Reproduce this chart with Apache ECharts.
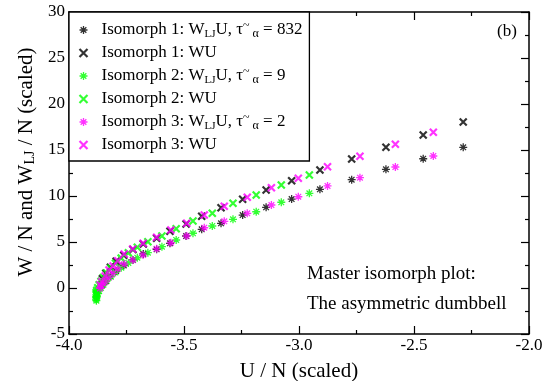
<!DOCTYPE html>
<html>
<head>
<meta charset="utf-8">
<script src="https://cdn.jsdelivr.net/npm/echarts@6/dist/echarts.min.js"></script>
<style>
  html, body { margin: 0; padding: 0; background: #fff; }
  #chart { width: 559px; height: 381px; }
</style>
</head>
<body>
<div id="chart"></div>
<script>
// Isomorph 1 state points: potential energy per particle and virials
var iso1U   = [-2.286, -2.460, -2.622, -2.771, -2.909, -3.032, -3.143, -3.245, -3.339, -3.423, -3.491, -3.561, -3.619, -3.677, -3.722, -3.762, -3.795, -3.820, -3.840, -3.855];
var iso1W   = [18.04, 16.63, 15.29, 14.02, 12.83, 11.66, 10.65, 9.64, 8.73, 7.79, 6.96, 6.16, 5.40, 4.78, 4.18, 3.55, 2.90, 2.25, 1.60, 1.00];
var iso1WLJ = [15.29, 14.05, 12.90, 11.77, 10.73, 9.67, 8.77, 7.93, 7.03, 6.38, 5.65, 4.86, 4.21, 3.70, 3.05, 2.45, 1.85, 1.30, 0.75, 0.30];

// Isomorph 2
var iso2U   = [-2.955, -3.077, -3.186, -3.287, -3.377, -3.461, -3.534, -3.596, -3.657, -3.703, -3.742, -3.773, -3.798, -3.818, -3.836, -3.850, -3.861, -3.869, -3.875, -3.879, -3.881, -3.882, -3.881];
var iso2W   = [12.28, 11.20, 10.11, 9.21, 8.12, 7.28, 6.45, 5.65, 5.03, 4.42, 3.82, 3.25, 2.70, 2.15, 1.62, 1.15, 0.72, 0.35, 0.02, -0.25, -0.45, -0.62, -0.75];
var iso2WLJ = [10.29, 9.32, 8.29, 7.47, 6.74, 5.95, 5.22, 4.49, 3.84, 3.29, 2.72, 2.20, 1.70, 1.22, 0.78, 0.38, 0.02, -0.32, -0.62, -0.88, -1.08, -1.25, -1.38];

// Isomorph 3
var iso3U   = [-2.416, -2.581, -2.735, -2.876, -3.003, -3.120, -3.225, -3.325, -3.412, -3.488, -3.557, -3.619, -3.678, -3.723, -3.760, -3.788, -3.808, -3.826, -3.843, -3.858, -3.865];
var iso3W   = [16.92, 15.62, 14.32, 13.18, 11.92, 10.90, 9.86, 8.88, 7.93, 7.03, 6.30, 5.51, 4.86, 4.24, 3.70, 2.97, 2.39, 1.96, 1.30, 0.68, 0.33];
var iso3WLJ = [14.35, 13.15, 11.99, 11.09, 9.92, 9.02, 8.12, 7.25, 6.55, 5.65, 4.92, 4.27, 3.59, 3.04, 2.61, 2.10, 1.60, 1.15, 0.65, 0.25, -0.05];

var seriesNames = [
  'Isomorph 1: WLJU, tau 832',
  'Isomorph 1: WU',
  'Isomorph 2: WLJU, tau 9',
  'Isomorph 2: WU',
  'Isomorph 3: WLJU, tau 2',
  'Isomorph 3: WU'
];
var legendLabels = [
  'Isomorph 1: W{s|LJ}U, τ{t|~}{a|α} = 832',
  'Isomorph 1: WU',
  'Isomorph 2: W{s|LJ}U, τ{t|~}{a|α} = 9',
  'Isomorph 2: WU',
  'Isomorph 3: W{s|LJ}U, τ{t|~}{a|α} = 2',
  'Isomorph 3: WU'
];

var xTicks = { min: -4, max: -2, major: 0.5 };
var yTicks = { min: -5, max: 30, major: 5 };

var FONT = 'Liberation Serif';
var ASTERISK = 'path://M5,0L5,10M0,5L10,5M1.46,1.46L8.54,8.54M8.54,1.46L1.46,8.54';
var CROSS = 'path://M0,0L10,10M10,0L0,10';

function pairs(xs, ys) {
  return xs.map(function (x, i) { return [x, ys[i]]; });
}

function markerStyle(color, isCross) {
  return { color: 'none', borderColor: color, borderWidth: isCross ? 2.2 : 1.3 };
}

function scatter(name, data, color, isCross) {
  return {
    name: name,
    type: 'scatter',
    data: data,
    symbol: isCross ? CROSS : ASTERISK,
    symbolSize: isCross ? 7 : 8,
    itemStyle: markerStyle(color, isCross),
    emphasis: { disabled: true },
    animation: false
  };
}

var seriesColors = ['#000000', '#000000', '#00ff00', '#00ff00', '#ff00ff', '#ff00ff'];

var richSub = {
  s: { fontFamily: FONT, fontSize: 11, color: '#000', verticalAlign: 'bottom', lineHeight: 8 },
  a: { fontFamily: FONT, fontSize: 12, color: '#000', verticalAlign: 'bottom', lineHeight: 8, padding: [0, 0, 0, 3] },
  t: { fontFamily: FONT, fontSize: 12, color: '#000', verticalAlign: 'top', lineHeight: 10 }
};

var chart = echarts.init(document.getElementById('chart'), null, { renderer: 'canvas' });

var axisCommon = {
  axisLine: { show: true, onZero: false, lineStyle: { color: '#000', width: 1.5 } },
  axisTick: { show: true, inside: true, length: 8, lineStyle: { color: '#000', width: 1.2 } },
  minorTick: { show: true, splitNumber: 2, length: 4, lineStyle: { color: '#000', width: 1.2 } },
  splitLine: { show: false }
};

var option = {
  backgroundColor: '#fff',
  animation: false,
  grid: { left: 69, right: 30, top: 12, bottom: 47, containLabel: false, outerBoundsMode: 'none' },
  xAxis: [
    Object.assign({
      type: 'value', position: 'bottom',
      min: xTicks.min, max: xTicks.max, interval: xTicks.major,
      name: 'U / N (scaled)', nameLocation: 'middle', nameGap: 27,
      nameTextStyle: { fontFamily: FONT, fontSize: 21, color: '#000' },
      axisLabel: {
        fontFamily: FONT, fontSize: 17, color: '#000', margin: 3,
        formatter: function (v) { return v.toFixed(1); }
      }
    }, axisCommon),
    Object.assign({
      type: 'value', position: 'top',
      min: xTicks.min, max: xTicks.max, interval: xTicks.major,
      axisLabel: { show: false }
    }, axisCommon)
  ],
  yAxis: [
    Object.assign({
      type: 'value', position: 'left',
      min: yTicks.min, max: yTicks.max, interval: yTicks.major,
      name: 'W / N and W{s|LJ} / N (scaled)', nameLocation: 'middle', nameGap: 27,
      nameTextStyle: {
        fontFamily: FONT, fontSize: 21, color: '#000',
        padding: [0, 0, 0, 22],
        rich: {
          s: { fontFamily: FONT, fontSize: 14, color: '#000', verticalAlign: 'bottom', lineHeight: 10 }
        }
      },
      axisLabel: { fontFamily: FONT, fontSize: 17, color: '#000', margin: 4 }
    }, axisCommon),
    Object.assign({
      type: 'value', position: 'right',
      min: yTicks.min, max: yTicks.max, interval: yTicks.major,
      axisLabel: { show: false }
    }, axisCommon)
  ],
  legend: {
    data: seriesNames.map(function (n, i) {
      var isCross = i % 2 === 1;
      return { name: n, itemStyle: markerStyle(seriesColors[i], isCross) };
    }),
    orient: 'vertical',
    left: 69, top: 12,
    backgroundColor: '#fff',
    borderColor: '#000', borderWidth: 1.3, borderRadius: 0,
    padding: [8, 7, 6, 8],
    itemWidth: 12, itemHeight: 8, itemGap: 3,
    selectedMode: false,
    formatter: function (name) { return legendLabels[seriesNames.indexOf(name)]; },
    textStyle: {
      fontFamily: FONT, fontSize: 17, color: '#000', lineHeight: 20,
      padding: [0, 0, 0, 7],
      rich: richSub
    }
  },
  graphic: [
    { type: 'text', left: 497, top: 23, style: { text: '(b)', font: '17px "Liberation Serif"', fill: '#000' } },
    { type: 'text', left: 307, top: 265, style: { text: 'Master isomorph plot:', font: '19px "Liberation Serif"', fill: '#000' } },
    { type: 'text', left: 307, top: 295, style: { text: 'The asymmetric dumbbell', font: '19px "Liberation Serif"', fill: '#000' } }
  ],
  series: seriesNames.map(function (n, i) {
    var isCross = i % 2 === 1;
    var sets = [
      [iso1U, iso1WLJ], [iso1U, iso1W],
      [iso2U, iso2WLJ], [iso2U, iso2W],
      [iso3U, iso3WLJ], [iso3U, iso3W]
    ];
    return scatter(n, pairs(sets[i][0], sets[i][1]), seriesColors[i], isCross);
  })
};

chart.setOption(option);
</script>
</body>
</html>
